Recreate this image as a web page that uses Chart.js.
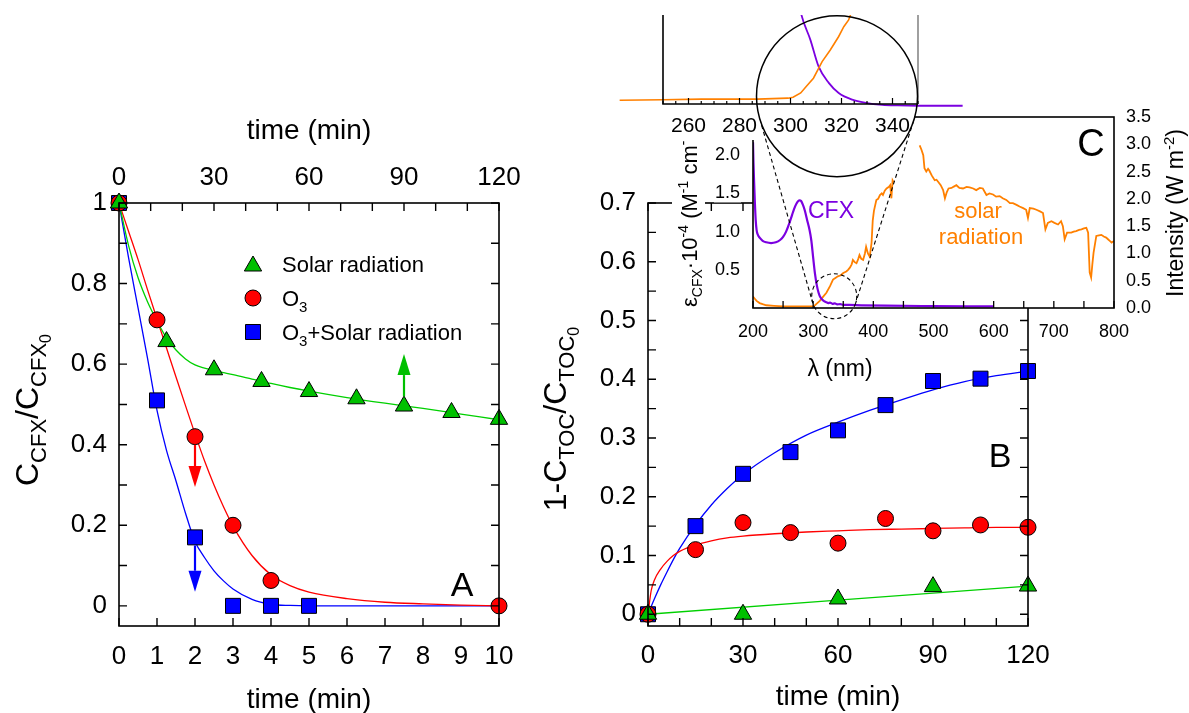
<!DOCTYPE html>
<html>
<head>
<meta charset="utf-8">
<script src="https://cdn.jsdelivr.net/npm/chart.js@4.4.1/dist/chart.umd.min.js"></script>
<style>
html,body{margin:0;padding:0;background:#fff;}
#wrap{position:relative;width:1189px;height:713px;overflow:hidden;background:#fff;}
#wrap canvas{position:absolute;left:0;top:0;}
</style>
</head>
<body>
<div id="wrap">
<canvas id="cA" width="1189" height="713"></canvas>
<canvas id="cB" width="1189" height="713"></canvas>
<canvas id="cC" width="1189" height="713"></canvas>
<canvas id="cZ" width="1189" height="713"></canvas>
</div>
<script>
// ================= DATA =================
// Panel A : C_CFX / C_CFX0 versus time (min)
const timeSolarA = [0, 1.25, 2.5, 3.75, 5, 6.25, 7.5, 8.75, 10];
const solarA     = [1, 0.656, 0.586, 0.557, 0.532, 0.514, 0.496, 0.48, 0.463];
const timeO3A    = [0, 1, 2, 3, 4, 10];
const o3A        = [1, 0.71, 0.42, 0.2, 0.063, 0];
const timeComboA = [0, 1, 2, 3, 4, 5];
const comboA     = [1, 0.51, 0.17, 0, 0, 0];
const fitTimeA   = [0,0.25,0.5,0.75,1,1.25,1.5,1.75,2,2.25,2.5,2.75,3,3.5,4,4.5,5,6,7,8,9,10];
const fitSolarA  = [1,0.895,0.815,0.755,0.707,0.665,0.635,0.613,0.598,0.59,0.584,0.579,0.574,0.563,0.552,0.542,0.533,0.517,0.503,0.49,0.476,0.462];
const fitO3A     = [1,0.93,0.86,0.785,0.712,0.64,0.568,0.497,0.427,0.36,0.3,0.246,0.198,0.125,0.077,0.05,0.034,0.018,0.009,0.005,0.002,0];
const fitComboA  = [1,0.865,0.74,0.615,0.485,0.386,0.31,0.23,0.16,0.12,0.087,0.062,0.042,0.016,0.004,0.001,0,0,0,0,0,0];
const arrowX     = [2, 2, 7.5];
const arrowFrom  = [0.40, 0.15, 0.52];
const arrowTo    = [0.295, 0.035, 0.625];
const ticksAX    = [0,1,2,3,4,5,6,7,8,9,10];
const ticksAX2   = [0,30,60,90,120];
const ticksAY    = [0,0.2,0.4,0.6,0.8,1];
const legendA    = ['Solar radiation', 'O3', 'O3+Solar radiation'];

// Panel B : 1 - C_TOC / C_TOC0 versus time (min)
const timeB        = [0,15,30,45,60,75,90,105,120];
const o3B          = [0,0.11,0.156,0.139,0.121,0.163,0.142,0.152,0.148];
const comboB       = [0,0.15,0.239,0.276,0.313,0.356,0.397,0.401,0.414];
const timeSolarB   = [0,30,60,90,120];
const solarB       = [0,0,0.026,0.047,0.048];
const fitTimeB     = [0,1,2,4,6,8,10,15,20,25,30,40,50,60,70,80,90,100,110,120];
const fitComboB    = [0,0.013,0.026,0.05,0.072,0.093,0.112,0.152,0.186,0.214,0.238,0.275,0.305,0.327,0.347,0.365,0.382,0.396,0.406,0.414];
const fitO3B       = [0,0.04,0.058,0.077,0.09,0.1,0.107,0.118,0.125,0.13,0.133,0.137,0.14,0.142,0.144,0.145,0.146,0.147,0.148,0.148];
const fitTimeSolarB= [0,120];
const fitSolarB    = [0,0.048];
const ticksBX      = [0,30,60,90,120];
const ticksBY      = [0,0.1,0.2,0.3,0.4,0.5,0.6,0.7];

// Inset C : spectra
const cfxWl  = [200,200.8,201.7,203,204.5,206,208,211,216,222,230,238,245,250,255,260,265,270,274,277,280,283,286,290,294,297,300,303,306,309,312,315,318,322,325,328,332,336,340,345,350,360,380,420,500,600];
const cfxEps = [2.17,1.9,1.68,1.4,1.15,1.02,0.96,0.92,0.88,0.86,0.85,0.86,0.89,0.93,1.0,1.1,1.22,1.33,1.39,1.41,1.4,1.35,1.28,1.15,1.02,0.88,0.66,0.45,0.3,0.2,0.14,0.11,0.09,0.075,0.065,0.07,0.055,0.06,0.048,0.05,0.042,0.04,0.035,0.03,0.025,0.02];
const solarWl = [200,203,206,211,216,222,235,250,270,290,300,303,306,311,316,322,328,333,337,341,346,350,355,358,361,364,366,369,372,375,377,380,383,386,388,391,394,397,399,401,405,408,411,414,416,419,422,426,428,430,432,434,455,477,480,483,485,488,491,493,497,502,505,508,512,516,519,522,525,530,533,538,543,549,555,560,566,571,577,582,588,593,599,604,610,615,621,627,632,638,643,649,654,657,660,666,671,677,682,686,690,696,701,707,712,715,718,722,726,729,733,737,742,746,750,754,757,759.6,762,764,766,770.6,775,779,783,787,790,793,796,800];
const solarI  = [0.21,0.17,0.13,0.09,0.07,0.05,0.04,0.03,0.03,0.03,0.03,0.05,0.08,0.13,0.2,0.28,0.4,0.52,0.55,0.58,0.6,0.64,0.67,0.7,0.74,0.8,0.88,0.84,0.82,0.9,0.97,0.9,0.88,1.0,1.12,1.0,0.94,1.19,1.6,1.78,1.98,2.0,2.07,2.1,2.07,2.15,2.19,2.22,2.25,2.01,2.34,2.3,null,2.98,2.9,2.8,2.56,2.5,2.55,2.52,2.43,2.34,2.35,2.31,2.25,2.16,2.01,2.12,2.19,2.2,2.22,2.25,2.2,2.19,2.22,2.21,2.19,2.16,2.2,2.19,2.07,2.1,2.08,2.04,2.05,2.01,1.98,1.92,1.92,1.89,1.86,1.83,1.8,1.65,1.83,1.82,1.8,1.77,1.74,1.44,1.56,1.59,1.56,1.53,1.59,1.5,1.26,1.38,1.38,1.38,1.4,1.41,1.43,1.44,1.46,1.47,1.38,0.65,0.56,0.8,1.01,1.32,1.33,1.34,1.31,1.29,1.26,1.23,1.2,1.23];
const ticksCX  = [200,300,400,500,600,700,800];
const ticksCY  = [0.5,1.0,1.5,2.0,2.5];
const ticksCYR = [0,0.5,1,1.5,2,2.5,3,3.5];

// Magnified view (250-350 nm)
const zoomSolarWl = [233,250,265,287,299,301,304,306.5,309,312.4,315.6,318.9,320.9,322.8,323.5,325];
const zoomSolarI  = [0.012,0.014,0.016,0.016,0.019,0.022,0.036,0.06,0.084,0.138,0.176,0.22,0.252,0.274,0.29,0.33];
const zoomCfxWl   = [300,303,304.3,307.8,311,315,318.9,324.2,329.5,336,342,349.8,367.5];
const zoomCfxEps  = [0.6,0.42,0.362,0.276,0.184,0.127,0.092,0.069,0.058,0.051,0.049,0.048,0.048];
const ticksZX     = [260,280,300,320,340];

// ================= HELPERS =================
const FONT = "'Liberation Sans', Arial, sans-serif";
const GREEN = '#00c000', GREENL = '#00d000', RED = '#ff0000', BLUE = '#0000ff';
const ORANGE = '#ff8000', PURPLE = '#7b00e0';
const xy = (xs, ys) => xs.map((x, i) => ({x: x, y: ys[i]}));
const TL = 8;

function richWidth(ctx, parts) {
  let w = 0;
  for (const p of parts) { ctx.font = p.s + 'px ' + FONT; w += ctx.measureText(p.t).width; }
  return w;
}
function drawRich(ctx, parts, x, y, rot, align, color) {
  ctx.save();
  ctx.translate(x, y);
  if (rot) ctx.rotate(rot);
  ctx.textBaseline = 'alphabetic';
  ctx.textAlign = 'left';
  ctx.fillStyle = color || '#000';
  const w = richWidth(ctx, parts);
  let cx = align === 'center' ? -w / 2 : (align === 'right' ? -w : 0);
  for (const p of parts) {
    ctx.font = p.s + 'px ' + FONT;
    ctx.fillText(p.t, cx, p.dy || 0);
    cx += ctx.measureText(p.t).width;
  }
  ctx.restore();
}
function text(ctx, t, x, y, size, color, align) {
  ctx.save();
  ctx.font = size + 'px ' + FONT;
  ctx.fillStyle = color || '#000';
  ctx.textAlign = align || 'center';
  ctx.textBaseline = 'middle';
  ctx.fillText(t, x, y);
  ctx.restore();
}
function marker(ctx, style, x, y, r, fill) {
  ctx.save();
  ctx.beginPath();
  if (style === 'triangle') {
    ctx.moveTo(x, y - r);
    ctx.lineTo(x + 0.866 * r, y + 0.5 * r);
    ctx.lineTo(x - 0.866 * r, y + 0.5 * r);
    ctx.closePath();
  } else if (style === 'circle') {
    ctx.arc(x, y, r, 0, Math.PI * 2);
  } else {
    const s = r * Math.SQRT1_2;
    ctx.rect(x - s, y - s, 2 * s, 2 * s);
  }
  ctx.fillStyle = fill; ctx.fill();
  ctx.lineWidth = 1; ctx.strokeStyle = '#000'; ctx.stroke();
  ctx.restore();
}
function steps(a, b, st) { const o = []; for (let v = a; v <= b + st * 1e-6; v += st) o.push(+v.toFixed(6)); return o; }
function setTicks(arr) { return s => { s.ticks = arr.map(v => ({value: v})); }; }
function fixW(w) { return s => { s.width = w; s.paddingTop = 0; s.paddingBottom = 0; }; }
function fixH(h) { return s => { s.height = h; s.paddingLeft = 0; s.paddingRight = 0; }; }
function tickFont(size) { return {family: FONT, size: size}; }
const baseOpts = {responsive: false, animation: false, devicePixelRatio: 1,
  plugins: {legend: {display: false}, tooltip: {enabled: false}}};
const noGrid = {display: false, drawTicks: false};

function lineDs(xs, ys, color, w, yId, xId) {
  return {data: xy(xs, ys), borderColor: color, borderWidth: w || 1.3, pointRadius: 0,
    cubicInterpolationMode: 'monotone', fill: false, order: 2, yAxisID: yId || 'y', xAxisID: xId || 'x'};
}
function ptDs(xs, ys, style, r, color) {
  return {data: xy(xs, ys), showLine: false, pointStyle: style, pointRadius: r, backgroundColor: color,
    borderColor: '#000', borderWidth: 1, clip: false, order: 1};
}

// ================= PANEL A =================
const plugA = {
  id: 'decoA',
  afterDatasetsDraw(chart) {
    const {ctx, chartArea: a, scales} = chart;
    ctx.save();
    ctx.strokeStyle = '#000'; ctx.lineWidth = 1.6;
    ctx.strokeRect(a.left, a.top, a.right - a.left, a.bottom - a.top);
    ctx.lineWidth = 1.4;
    ctx.beginPath();
    for (const v of steps(0, 1, 0.1)) {
      const y = scales.y.getPixelForValue(v);
      ctx.moveTo(a.left, y); ctx.lineTo(a.left + TL, y);
      ctx.moveTo(a.right, y); ctx.lineTo(a.right - TL, y);
    }
    for (const v of steps(0, 10, 1)) {
      const x = scales.x.getPixelForValue(v);
      ctx.moveTo(x, a.bottom); ctx.lineTo(x, a.bottom - TL);
    }
    for (const v of steps(0, 120, 10)) {
      const x = scales.x2.getPixelForValue(v);
      ctx.moveTo(x, a.top); ctx.lineTo(x, a.top + TL);
    }
    ctx.stroke();
    // arrows
    const cols = [RED, BLUE, GREEN];
    arrowX.forEach((v, i) => {
      const x = scales.x.getPixelForValue(v);
      const y0 = scales.y.getPixelForValue(arrowFrom[i]);
      const y1 = scales.y.getPixelForValue(arrowTo[i]);
      const dir = y1 > y0 ? 1 : -1;
      const hl = 21, hw = 6.5;
      ctx.strokeStyle = cols[i]; ctx.fillStyle = cols[i]; ctx.lineWidth = 2.2;
      ctx.beginPath(); ctx.moveTo(x, y0); ctx.lineTo(x, y1 - dir * hl); ctx.stroke();
      ctx.beginPath(); ctx.moveTo(x, y1); ctx.lineTo(x - hw, y1 - dir * hl); ctx.lineTo(x + hw, y1 - dir * hl);
      ctx.closePath(); ctx.fill();
    });
    ctx.restore();
  },
  afterDraw(chart) {
    const {ctx} = chart;
    // legend
    const rows = [264, 298, 332];
    marker(ctx, 'triangle', 253, rows[0] + 2, 10, GREEN);
    marker(ctx, 'circle', 253, rows[1], 8, RED);
    marker(ctx, 'rect', 253, rows[2], 10.6, BLUE);
    drawRich(ctx, [{t: legendA[0], s: 22}], 282, rows[0] + 8, 0, 'left');
    drawRich(ctx, [{t: 'O', s: 22}, {t: '3', s: 15, dy: 6}], 282, rows[1] + 8, 0, 'left');
    drawRich(ctx, [{t: 'O', s: 22}, {t: '3', s: 15, dy: 6}, {t: '+Solar radiation', s: 22}], 282, rows[2] + 8, 0, 'left');
    // titles
    text(ctx, 'time (min)', 309, 131, 28);
    text(ctx, 'time (min)', 309, 700, 28);
    drawRich(ctx, [{t: 'C', s: 32}, {t: 'CFX', s: 22, dy: 8}, {t: '/C', s: 32}, {t: 'CFX', s: 22, dy: 8}, {t: '0', s: 16, dy: 13}],
      38, 410, -Math.PI / 2, 'center');
    text(ctx, 'A', 462, 587, 34);
  }
};

new Chart(document.getElementById('cA'), {
  type: 'line',
  data: {datasets: [
    lineDs(fitTimeA, fitSolarA, GREENL), lineDs(fitTimeA, fitO3A, RED), lineDs(fitTimeA, fitComboA, BLUE),
    ptDs(timeSolarA, solarA, 'triangle', 10, GREEN),
    ptDs(timeO3A, o3A, 'circle', 8, RED),
    ptDs(timeComboA, comboA, 'rect', 10.6, BLUE)
  ]},
  options: Object.assign({}, baseOpts, {
    layout: {padding: {left: 0, top: 0, right: 690, bottom: 0}},
    scales: {
      x: {type: 'linear', position: 'bottom', min: 0, max: 10, afterBuildTicks: setTicks(ticksAX), afterFit: fixH(87),
        grid: noGrid, border: {display: false},
        ticks: {padding: 15, font: tickFont(26), color: '#000', autoSkip: false, maxRotation: 0, minRotation: 0, callback: v => String(v)}},
      x2: {type: 'linear', position: 'top', min: 0, max: 120, afterBuildTicks: setTicks(ticksAX2), afterFit: fixH(203),
        grid: noGrid, border: {display: false},
        ticks: {padding: 10, font: tickFont(26), color: '#000', autoSkip: false, maxRotation: 0, minRotation: 0, callback: v => String(v)}},
      y: {type: 'linear', position: 'left', min: -0.05, max: 1, afterBuildTicks: setTicks(ticksAY), afterFit: fixW(119),
        grid: noGrid, border: {display: false},
        ticks: {padding: 12, font: tickFont(26), color: '#000', autoSkip: false, callback: v => (v === 0 || v === 1) ? String(v) : v.toFixed(1)}}
    }
  }),
  plugins: [plugA]
});

// ================= PANEL B =================
const plugB = {
  id: 'decoB',
  afterDatasetsDraw(chart) {
    const {ctx, chartArea: a, scales} = chart;
    ctx.save();
    ctx.strokeStyle = '#000'; ctx.lineWidth = 1.6;
    ctx.strokeRect(a.left, a.top, a.right - a.left, a.bottom - a.top);
    ctx.lineWidth = 1.4;
    ctx.beginPath();
    for (const v of steps(0, 0.7, 0.05)) {
      const y = scales.y.getPixelForValue(v);
      ctx.moveTo(a.left, y); ctx.lineTo(a.left + TL, y);
      ctx.moveTo(a.right, y); ctx.lineTo(a.right - TL, y);
    }
    for (const v of steps(0, 120, 10)) {
      const x = scales.x.getPixelForValue(v);
      ctx.moveTo(x, a.bottom); ctx.lineTo(x, a.bottom - TL);
      ctx.moveTo(x, a.top); ctx.lineTo(x, a.top + TL);
    }
    ctx.stroke();
    ctx.restore();
  },
  afterDraw(chart) {
    const {ctx} = chart;
    text(ctx, 'time (min)', 838, 697, 28);
    drawRich(ctx, [{t: '1-C', s: 32}, {t: 'TOC', s: 22, dy: 8}, {t: '/C', s: 32}, {t: 'TOC', s: 22, dy: 8}, {t: '0', s: 16, dy: 13}],
      566, 419, -Math.PI / 2, 'center');
    text(ctx, 'B', 1000, 458, 34);
  }
};

new Chart(document.getElementById('cB'), {
  type: 'line',
  data: {datasets: [
    lineDs(fitTimeSolarB, fitSolarB, GREENL), lineDs(fitTimeB, fitO3B, RED), lineDs(fitTimeB, fitComboB, BLUE),
    ptDs(timeSolarB, solarB, 'triangle', 10, GREEN),
    ptDs(timeB, o3B, 'circle', 8, RED),
    ptDs(timeB, comboB, 'rect', 10.6, BLUE)
  ]},
  options: Object.assign({}, baseOpts, {
    layout: {padding: {left: 0, top: 203, right: 161, bottom: 0}},
    scales: {
      x: {type: 'linear', position: 'bottom', min: 0, max: 120, afterBuildTicks: setTicks(ticksBX), afterFit: fixH(87),
        grid: noGrid, border: {display: false},
        ticks: {padding: 14, font: tickFont(26), color: '#000', autoSkip: false, maxRotation: 0, minRotation: 0, callback: v => String(v)}},
      y: {type: 'linear', position: 'left', min: -0.02, max: 0.7, afterBuildTicks: setTicks(ticksBY), afterFit: fixW(648),
        grid: noGrid, border: {display: false},
        ticks: {padding: 12, font: tickFont(26), color: '#000', autoSkip: false, callback: v => v === 0 ? '0' : v.toFixed(1)}}
    }
  }),
  plugins: [plugB]
});

// ================= INSET C =================
const BIG = {cx: 837, cy: 96.2, r: 80.5};
const SMALL = {wl: 335, eps: 0.154, r: 22.5};
const titleC = [{t: 'ε', s: 22}, {t: 'CFX', s: 14, dy: 5}, {t: '·10', s: 22}, {t: '-4', s: 14, dy: -9},
  {t: ' (M', s: 22}, {t: '-1', s: 14, dy: -9}, {t: ' cm', s: 22}, {t: '-1', s: 14, dy: -9}, {t: ')', s: 22}];

const plugC = {
  id: 'decoC',
  beforeDraw(chart) {
    const {ctx, chartArea: a, scales} = chart;
    ctx.save();
    ctx.fillStyle = '#fff';
    ctx.fillRect(a.left, a.top, a.right - a.left, a.bottom - a.top);
    const tw = richWidth(ctx, titleC);
    ctx.fillRect(672, 307 - tw - 2, 33, tw + 6);
    ctx.font = '18px ' + FONT;
    for (const v of ticksCY) {
      const y = scales.y.getPixelForValue(v);
      const w = ctx.measureText(v.toFixed(1)).width;
      ctx.fillRect(a.left - 13 - w - 1, y - 9, w + 2, 18);
    }
    ctx.restore();
  },
  afterDatasetsDraw(chart) {
    const {ctx, chartArea: a, scales} = chart;
    ctx.save();
    ctx.strokeStyle = '#000'; ctx.lineWidth = 1.6;
    ctx.strokeRect(a.left, a.top, a.right - a.left, a.bottom - a.top);
    ctx.lineWidth = 1.3;
    ctx.beginPath();
    for (const v of steps(200, 800, 50)) {
      const x = scales.x.getPixelForValue(v);
      ctx.moveTo(x, a.bottom); ctx.lineTo(x, a.bottom - 7);
    }
    ctx.stroke();
    const sx = scales.x.getPixelForValue(SMALL.wl), sy = scales.y.getPixelForValue(SMALL.eps);
    ctx.setLineDash([4, 3]); ctx.lineWidth = 1.1;
    ctx.beginPath(); ctx.arc(sx, sy, SMALL.r, 0, Math.PI * 2); ctx.stroke();
    const dx = sx - BIG.cx, dy = sy - BIG.cy, D = Math.hypot(dx, dy);
    const ux = dx / D, uy = dy / D, c = (BIG.r - SMALL.r) / D, s = Math.sqrt(1 - c * c);
    for (const sg of [1, -1]) {
      const nx = c * ux - sg * s * uy, ny = sg * s * ux + c * uy;
      ctx.beginPath();
      ctx.moveTo(BIG.cx + BIG.r * nx, BIG.cy + BIG.r * ny);
      ctx.lineTo(sx + SMALL.r * nx, sy + SMALL.r * ny);
      ctx.stroke();
    }
    ctx.setLineDash([]);
    ctx.restore();
  },
  afterDraw(chart) {
    const {ctx} = chart;
    text(ctx, 'CFX', 808, 212, 23, PURPLE, 'left');
    text(ctx, 'solar', 978, 212, 22, ORANGE);
    text(ctx, 'radiation', 981, 238, 22, ORANGE);
    text(ctx, 'C', 1091, 146, 38);
    text(ctx, 'λ (nm)', 840, 370, 23);
    drawRich(ctx, titleC, 697, 307, -Math.PI / 2, 'left');
    drawRich(ctx, [{t: 'Intensity (W m', s: 23}, {t: '-2', s: 15, dy: -9}, {t: ')', s: 23}], 1183, 297, -Math.PI / 2, 'left');
  }
};

new Chart(document.getElementById('cC'), {
  type: 'line',
  data: {datasets: [
    {data: xy(cfxWl, cfxEps), borderColor: PURPLE, borderWidth: 2.2, pointRadius: 0, cubicInterpolationMode: 'monotone', yAxisID: 'y'},
    {data: xy(solarWl, solarI), borderColor: ORANGE, borderWidth: 1.8, pointRadius: 0, yAxisID: 'yR', spanGaps: false}
  ]},
  options: Object.assign({}, baseOpts, {
    layout: {padding: {left: 0, top: 117, right: 0, bottom: 0}},
    scales: {
      x: {type: 'linear', position: 'bottom', min: 200, max: 800, afterBuildTicks: setTicks(ticksCX), afterFit: fixH(405),
        grid: noGrid, border: {display: false},
        ticks: {padding: 13, font: tickFont(18), color: '#000', autoSkip: false, maxRotation: 0, minRotation: 0, callback: v => String(v)}},
      y: {type: 'linear', position: 'left', min: 0, max: 2.5, afterBuildTicks: setTicks(ticksCY), afterFit: fixW(753),
        grid: noGrid, border: {display: false},
        ticks: {padding: 13, font: tickFont(18), color: '#000', autoSkip: false, callback: v => v.toFixed(1)}},
      yR: {type: 'linear', position: 'right', min: 0, max: 3.5, afterBuildTicks: setTicks(ticksCYR), afterFit: fixW(75),
        grid: noGrid, border: {display: false},
        ticks: {padding: 12, font: tickFont(18), color: '#000', autoSkip: false, callback: v => v.toFixed(1)}}
    }
  }),
  plugins: [plugC]
});

// ================= MAGNIFIED VIEW =================
const plugZ = {
  id: 'decoZ',
  beforeDraw(chart) {
    const {ctx} = chart;
    ctx.save();
    ctx.fillStyle = '#fff';
    ctx.fillRect(660, 104, 100, 36);
    ctx.beginPath(); ctx.arc(BIG.cx, BIG.cy, BIG.r, 0, Math.PI * 2); ctx.fill();
    ctx.restore();
  },
  afterDatasetsDraw(chart) {
    const {ctx, chartArea: a, scales} = chart;
    ctx.save();
    ctx.lineWidth = 1.6; ctx.strokeStyle = '#000';
    ctx.beginPath();
    ctx.moveTo(a.left, a.top); ctx.lineTo(a.left, a.bottom); ctx.lineTo(a.right, a.bottom);
    ctx.stroke();
    ctx.strokeStyle = '#888';
    ctx.beginPath(); ctx.moveTo(a.right, a.top); ctx.lineTo(a.right, a.bottom); ctx.stroke();
    ctx.strokeStyle = '#000'; ctx.lineWidth = 1.2;
    ctx.beginPath();
    for (const v of steps(250, 350, 5)) {
      const x = scales.x.getPixelForValue(v);
      const len = ((v - 260) % 20 === 0) ? 6 : 3;
      ctx.moveTo(x, a.bottom); ctx.lineTo(x, a.bottom - len);
    }
    ctx.stroke();
    ctx.lineWidth = 1.5;
    ctx.beginPath(); ctx.arc(BIG.cx, BIG.cy, BIG.r, 0, Math.PI * 2); ctx.stroke();
    ctx.restore();
  }
};

new Chart(document.getElementById('cZ'), {
  type: 'line',
  data: {datasets: [
    {data: xy(zoomSolarWl, zoomSolarI), borderColor: ORANGE, borderWidth: 1.6, pointRadius: 0, yAxisID: 'yS',
      clip: {left: 50, right: 50, top: 0, bottom: 10}},
    {data: xy(zoomCfxWl, zoomCfxEps), borderColor: PURPLE, borderWidth: 1.8, pointRadius: 0, yAxisID: 'yE',
      cubicInterpolationMode: 'monotone', clip: {left: 50, right: 50, top: 0, bottom: 10}}
  ]},
  options: Object.assign({}, baseOpts, {
    layout: {padding: {left: 663, top: 15, right: 271, bottom: 0}},
    scales: {
      x: {type: 'linear', position: 'bottom', min: 250, max: 350, afterBuildTicks: setTicks(ticksZX), afterFit: fixH(609),
        grid: noGrid, border: {display: false},
        ticks: {padding: 10, font: tickFont(21), color: '#000', autoSkip: false, maxRotation: 0, minRotation: 0, callback: v => String(v)}},
      yS: {type: 'linear', display: false, min: 0, max: 0.29},
      yE: {type: 'linear', display: false, min: 0.054, max: 0.362}
    }
  }),
  plugins: [plugZ]
});
</script>
</body>
</html>
